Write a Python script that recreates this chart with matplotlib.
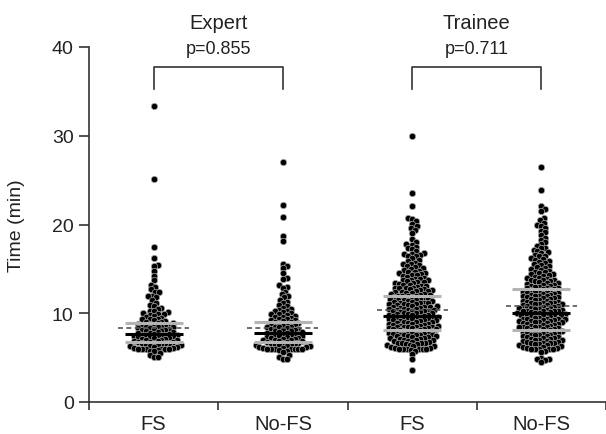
import numpy as np
import matplotlib
matplotlib.use('Agg')
import matplotlib.pyplot as plt

plt.rcParams['font.family'] = ['Liberation Sans', 'DejaVu Sans']

CATEGORIES = ['FS', 'No-FS', 'FS', 'No-FS']
GROUPS = ['Expert', 'Trainee']
P_VALUES = ['p=0.855', 'p=0.711']

EXPERT_FS = [
    33.3, 25.1, 17.5, 16.2, 15.4, 15.3, 14.8, 14.2, 13.7, 13.2, 13.0, 12.7, 12.4, 12.4, 12.0, 12.0, 11.8, 11.5, 11.2, 10.9,
    10.8, 10.6, 10.5, 10.3, 10.2, 10.1, 10.0, 9.9, 9.9, 9.8, 9.7, 9.6, 9.5, 9.4, 9.3, 9.3, 9.2, 9.1, 9.0, 9.0,
    8.9, 8.9, 8.8, 8.8, 8.7, 8.7, 8.6, 8.6, 8.5, 8.5, 8.4, 8.4, 8.3, 8.3, 8.2, 8.2, 8.1, 8.1, 8.0, 8.0,
    7.9, 7.9, 7.8, 7.8, 7.7, 7.7, 7.6, 7.6, 7.6, 7.5, 7.5, 7.4, 7.4, 7.4, 7.3, 7.3, 7.2, 7.2, 7.1, 7.1,
    7.0, 7.0, 7.0, 6.9, 6.9, 6.8, 6.8, 6.8, 6.7, 6.7, 6.6, 6.6, 6.5, 6.5, 6.4, 6.4, 6.3, 6.3, 6.2, 6.2,
    6.1, 6.1, 6.0, 6.0, 6.0, 6.0, 6.0, 6.0, 5.9, 5.8, 5.7, 5.5, 5.3, 5.1, 5.1]

EXPERT_NOFS = [
    27.0, 22.2, 20.8, 18.7, 18.1, 15.6, 15.3, 15.1, 14.5, 14.0, 13.9, 13.2, 13.0, 12.9, 12.4, 12.2, 11.9, 11.8, 11.5, 11.3,
    11.1, 10.9, 10.8, 10.6, 10.5, 10.4, 10.3, 10.2, 10.1, 10.0, 9.9, 9.9, 9.8, 9.7, 9.6, 9.6, 9.5, 9.4, 9.3, 9.2,
    9.2, 9.1, 9.0, 9.0, 8.9, 8.9, 8.8, 8.7, 8.7, 8.6, 8.5, 8.5, 8.4, 8.4, 8.3, 8.2, 8.2, 8.1, 8.1, 8.0,
    8.0, 7.9, 7.9, 7.8, 7.8, 7.7, 7.7, 7.6, 7.6, 7.5, 7.5, 7.4, 7.4, 7.3, 7.3, 7.2, 7.2, 7.1, 7.1, 7.0,
    7.0, 7.0, 6.9, 6.9, 6.8, 6.8, 6.7, 6.7, 6.6, 6.6, 6.5, 6.5, 6.4, 6.4, 6.3, 6.3, 6.2, 6.2, 6.1, 6.1,
    6.0, 6.0, 6.0, 6.0, 6.0, 6.0, 6.0, 5.9, 5.8, 5.6, 5.3, 5.1, 4.9, 4.9]

TRAINEE_FS = [
    30.0, 23.6, 22.1, 20.7, 20.6, 20.4, 20.1, 19.8, 19.6, 19.4, 19.0, 18.4, 18.0, 17.8, 17.7, 17.5, 17.4, 17.2, 17.0,
    16.8, 16.7, 16.7, 16.6, 16.5, 16.4, 16.2, 16.0, 15.9, 15.7, 15.6, 15.5, 15.4, 15.3, 15.2, 15.1, 15.0,
    14.9, 14.8, 14.7, 14.6, 14.5, 14.5, 14.4, 14.3, 14.3, 14.2, 14.1, 14.0,
    13.9, 13.9, 13.8, 13.7, 13.7, 13.6, 13.5, 13.5, 13.4, 13.4, 13.3, 13.2, 13.2, 13.1, 13.1, 13.0,
    12.9, 12.9, 12.8, 12.8, 12.7, 12.7, 12.6, 12.6, 12.5, 12.5, 12.4, 12.4, 12.3, 12.3, 12.2, 12.2, 12.1, 12.1, 12.0, 12.0,
    11.9, 11.9, 11.8, 11.8, 11.7, 11.7, 11.6, 11.6, 11.5, 11.5, 11.5, 11.4, 11.4, 11.3, 11.3, 11.2, 11.2, 11.1, 11.1,
    11.0, 11.0, 11.0, 10.9, 10.9, 10.8, 10.8, 10.7, 10.7, 10.7, 10.6, 10.6, 10.5, 10.5, 10.5, 10.4, 10.4, 10.4,
    10.3, 10.3, 10.2, 10.2, 10.1, 10.1, 10.0, 10.0, 10.0, 9.9, 9.9, 9.8, 9.8, 9.8, 9.7, 9.7, 9.6, 9.6, 9.6,
    9.5, 9.5, 9.5, 9.4, 9.4, 9.3, 9.3, 9.3, 9.2, 9.2, 9.2, 9.1, 9.1, 9.0, 9.0, 9.0,
    8.9, 8.9, 8.8, 8.8, 8.8, 8.7, 8.7, 8.6, 8.6, 8.6, 8.5, 8.5, 8.5, 8.4, 8.4, 8.3, 8.3, 8.3, 8.2, 8.2, 8.2,
    8.1, 8.1, 8.0, 8.0, 8.0, 7.9, 7.9, 7.8, 7.8, 7.8, 7.7, 7.7, 7.6, 7.6, 7.5, 7.5, 7.5, 7.4, 7.4, 7.4,
    7.3, 7.3, 7.2, 7.2, 7.1, 7.1, 7.0, 7.0, 7.0, 6.9, 6.9, 6.8, 6.8, 6.7, 6.7, 6.6, 6.6, 6.5, 6.5,
    6.4, 6.4, 6.3, 6.3, 6.2, 6.1, 6.1, 6.0, 6.0, 6.0, 6.0, 6.0, 6.0, 5.9, 5.8, 5.4, 4.9, 3.6]

TRAINEE_NOFS = [
    26.5, 23.9, 22.1, 21.8, 21.5, 20.7, 20.5, 20.2, 19.9, 19.8, 19.6, 19.3, 19.1, 18.8, 18.5, 18.3, 18.0, 17.8, 17.6,
    17.4, 17.3, 17.1, 17.0, 16.9, 16.8, 16.6, 16.5, 16.4, 16.2, 16.1, 16.0, 15.9, 15.8, 15.7, 15.5, 15.4, 15.3, 15.2,
    15.1, 15.0, 14.9, 14.8, 14.7, 14.6, 14.5, 14.4, 14.4, 14.3, 14.2, 14.1, 14.0, 14.0,
    13.9, 13.8, 13.8, 13.7, 13.6, 13.6, 13.5, 13.4, 13.4, 13.3, 13.2, 13.2, 13.1, 13.1, 13.0, 13.0,
    12.9, 12.9, 12.8, 12.7, 12.7, 12.6, 12.6, 12.5, 12.5, 12.4, 12.4, 12.3, 12.3, 12.2, 12.2, 12.1, 12.1, 12.0, 12.0,
    11.9, 11.9, 11.8, 11.8, 11.7, 11.7, 11.6, 11.6, 11.5, 11.5, 11.4, 11.4, 11.3, 11.3, 11.2, 11.2, 11.1, 11.1,
    11.0, 11.0, 11.0, 10.9, 10.9, 10.8, 10.8, 10.7, 10.7, 10.6, 10.6, 10.6, 10.5, 10.5, 10.4, 10.4,
    10.3, 10.3, 10.3, 10.2, 10.2, 10.1, 10.1, 10.0, 10.0, 10.0, 9.9, 9.9, 9.8, 9.8, 9.7, 9.7, 9.7, 9.6, 9.6,
    9.5, 9.5, 9.4, 9.4, 9.4, 9.3, 9.3, 9.2, 9.2, 9.1, 9.1, 9.1, 9.0, 9.0, 9.0,
    8.9, 8.9, 8.8, 8.8, 8.7, 8.7, 8.6, 8.6, 8.5, 8.5, 8.4, 8.4, 8.4, 8.3, 8.3, 8.2, 8.2, 8.1, 8.1, 8.0, 8.0, 8.0,
    7.9, 7.9, 7.8, 7.8, 7.7, 7.7, 7.6, 7.6, 7.5, 7.5, 7.4, 7.4, 7.3, 7.3, 7.2, 7.2, 7.1, 7.1, 7.0, 7.0, 7.0,
    6.9, 6.9, 6.8, 6.8, 6.7, 6.7, 6.6, 6.6, 6.5, 6.5, 6.4, 6.4, 6.3, 6.2, 6.2, 6.1, 6.1, 6.0, 6.0, 6.0, 6.0, 6.0,
    5.8, 5.6, 5.0, 4.9, 4.8, 4.7, 4.5]

# summary lines
MEDIANS = [7.7, 7.8, 9.7, 10.0]
MEANS = [8.3, 8.3, 10.4, 10.8]
LOWER = [6.8, 6.8, 8.15, 8.1]
UPPER = [8.9, 9.05, 12.0, 12.7]


def swarm_offsets(ys, dmin, step):
    # simple beeswarm in pixel space, points placed from lowest value up
    placed = []
    offs = np.zeros(len(ys))
    for i in np.argsort(ys, kind='stable'):
        y = ys[i]
        k = 0
        found = None
        while found is None:
            cands = [0.0] if k == 0 else [k * step, -k * step]
            for c in cands:
                if all((c - px) ** 2 + (y - py) ** 2 >= dmin ** 2 for px, py in placed):
                    found = c
                    break
            k += 1
        offs[i] = found
        placed.append((found, y))
    return offs


fig = plt.figure(figsize=(6.06, 4.35), dpi=100)
ax = fig.add_axes([89 / 606, 1 - 403 / 435, 517 / 606, 355 / 435])
ax.set_xlim(0, 4)
ax.set_ylim(0, 40)

# pixel scale of the axes
p0 = ax.transData.transform((0, 0))
p1 = ax.transData.transform((1, 1))
px_x = p1[0] - p0[0]
px_y = p1[1] - p0[1]

data = [EXPERT_FS, EXPERT_NOFS, TRAINEE_FS, TRAINEE_NOFS]
centers = np.arange(4) + 0.5
for c, vals in zip(centers, data):
    vals = np.array(vals)
    offs = swarm_offsets(vals * px_y, 3.8, 1.3)
    ax.scatter(c + offs / px_x, vals, s=21, color='black', edgecolors='#a8a8a8',
               linewidths=0.5, zorder=3, clip_on=False)

for c, med, mean, lo, hi in zip(centers, MEDIANS, MEANS, LOWER, UPPER):
    ax.plot([c - 0.225, c + 0.225], [hi, hi], color='#b4b4b4', lw=2.2, zorder=4, solid_capstyle='butt')
    ax.plot([c - 0.225, c + 0.225], [lo, lo], color='#b4b4b4', lw=2.2, zorder=4, solid_capstyle='butt')
    ax.plot([c - 0.275, c + 0.275], [mean, mean], color='#555555', lw=1.2, ls=(0, (3, 2)), zorder=5)
    ax.plot([c - 0.225, c + 0.225], [med, med], color='black', lw=2.2, zorder=5, solid_capstyle='butt')

# group titles, p-values and brackets
for i, (grp, pv) in enumerate(zip(GROUPS, P_VALUES)):
    a, b = centers[2 * i], centers[2 * i + 1]
    mid = (a + b) / 2
    ax.plot([a, a, b, b], [35.3, 37.7, 37.7, 35.3], color='#333333', lw=1.2, clip_on=False)
    ax.text(mid, 39.8, pv, ha='center', va='center', fontsize=13, color='#222222', clip_on=False)
    ax.text(mid, 42.8, grp, ha='center', va='center', fontsize=14.5, color='#222222', clip_on=False)

for side in ['top', 'right']:
    ax.spines[side].set_visible(False)
for side in ['left', 'bottom']:
    ax.spines[side].set_linewidth(1.2)
    ax.spines[side].set_color('#333333')

ax.set_yticks([0, 10, 20, 30, 40])
ax.tick_params(axis='y', direction='out', length=7, width=1.2, color='#333333',
               labelsize=14, labelcolor='#222222', pad=4)
ax.set_xticks([0, 1, 2, 3, 4])
ax.set_xticklabels([])
ax.tick_params(axis='x', which='major', direction='out', length=6, width=1.2, color='#333333')
ax.set_xticks(centers, minor=True)
ax.set_xticklabels(CATEGORIES, minor=True)
ax.tick_params(axis='x', which='minor', length=0, labelsize=14.5, labelcolor='#222222', pad=9)

fig.text(17 / 606, 1 - 226 / 435, 'Time (min)', rotation=90, ha='center', va='center',
         fontsize=14, color='#222222')

fig.savefig('out.png', dpi=100)
